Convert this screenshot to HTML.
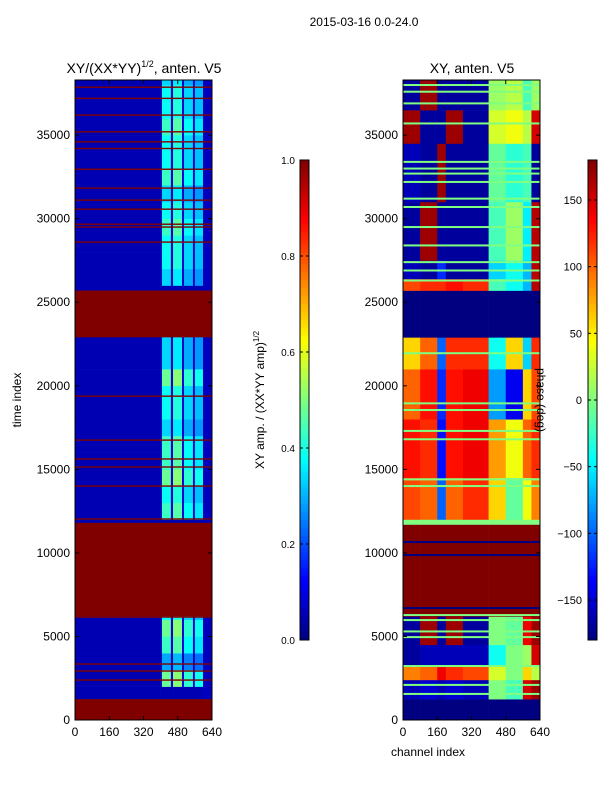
<!DOCTYPE html>
<html><head><meta charset="utf-8"><style>
body{margin:0;background:#fff;}
svg{display:block;font-family:"Liberation Sans",sans-serif;}
</style></head><body>
<svg id="fig" width="600" height="800" viewBox="0 0 600 800">
<text x="364" y="26" font-size="12" text-anchor="middle">2015-03-16 0.0-24.0</text>
<text x="144" y="73" font-size="14" text-anchor="middle">XY/(XX*YY)<tspan font-size="9" dy="-6">1/2</tspan><tspan dy="6">, anten. V5</tspan></text>
<text x="472" y="73" font-size="14" text-anchor="middle">XY, anten. V5</text>
<text transform="translate(21,400) rotate(-90)" font-size="12" text-anchor="middle">time index</text>
<text x="428" y="756" font-size="12" text-anchor="middle">channel index</text>
<text transform="translate(264,400) rotate(-90)" font-size="12" text-anchor="middle">XY amp. / (XX*YY amp)<tspan font-size="8" dy="-5">1/2</tspan></text>
<g id="left"></g>
<g id="right"></g>
<g id="cb1"></g>
<g id="cb2"></g>
<g id="axes"></g>
<text transform="translate(537,400) rotate(90)" font-size="12" text-anchor="middle">phase (deg)</text>
</svg>
<script>
// ---- data ----
const yTicks=[0,5000,10000,15000,20000,25000,30000,35000];
const xTicks=[0,160,320,480,640];
const ampTicks=[0.0,0.2,0.4,0.6,0.8,1.0];
const phaseTicks=[-150,-100,-50,0,50,100,150];
// left panel
const leftEdges=[0,400,406,448,458,500,509,551,560,598,640];
const leftWeights=[0.05,0.12,0.8,0.15,0.85,0.15,0.7,0.15,0.65,0.06];
const leftRedBands=[[0,1250],[6200,11800],[22900,25700]];
const leftRowIntensity=[0,0,0.5,0.3,0.45,0.5,0.4,0,0,0,0,0,0.45,0.4,0.5,0.45,0.45,0.35,0.4,0.4,0.5,0.35,0.35,0,0,0,0.35,0.4,0.4,0.45,0.4,0.35,0.45,0.4,0.4,0.45,0.4,0.4,0.35];
const leftRedLines=[2390,2930,3350,6160,12030,14000,15140,15620,16750,19380,28600,29500,29670,30570,31110,31830,32960,34200,34600,35200,36200,37200,37870];
// right panel (degrees)
const rightEdges=[0,80,160,200,280,400,480,560,600,640];
const rightBands=[
[0,1250,[-180,-180,-180,-180,-180,-180,-180,-180,-180]],
[1250,2400,[-160,-150,-160,-150,-160,0,-20,150,170]],
[2400,3200,[90,100,140,120,110,30,0,60,20]],
[3200,4500,[-170,-160,-160,-160,-160,-40,0,10,150]],
[4500,6200,[-170,170,-170,170,-170,0,-10,140,170]],
[6200,11700,[180,180,180,180,180,180,180,180,180]],
[11700,12000,[0,0,0,0,0,0,0,0,0]],
[12000,14500,[110,100,-100,100,120,60,-10,40,90]],
[14500,18000,[130,120,-130,130,140,80,40,100,120]],
[18000,21000,[100,130,-120,130,140,-80,-140,60,110]],
[21000,22900,[60,100,-100,120,120,-40,60,-60,120]],
[22900,25700,[-180,-180,-180,-180,-180,-180,-180,-180,-180]],
[25700,26400,[110,120,120,130,120,-20,-40,-70,160]],
[26400,27500,[-160,-170,-120,-170,-170,-60,-40,-70,160]],
[27500,31000,[-170,170,-170,-170,-170,-20,10,-50,160]],
[31000,34500,[-160,-170,170,-170,-170,-10,-30,-20,-170]],
[34500,36500,[170,-170,-170,170,-170,30,40,20,150]],
[36500,38300,[-170,170,-170,-170,-170,10,20,-20,10]]
];
const rightGreenLines=[1560,2100,3230,4960,5300,5980,6280,14000,14400,16800,17300,18550,18950,21950,26300,26900,27400,28400,29500,30700,31200,32200,32700,33000,33400,35700,36900,37600,38000];
const rightBlueLines=[6700,9870,10650];
// ---- geometry ----
const TMAX=38300, Y0=720, YT=80;
const ty=t=>Y0-t/TMAX*(Y0-YT);
const P={left:{x0:75,x1:212},right:{x0:403,x1:540}};
const cx=(p,c)=>P[p].x0+c/640*(P[p].x1-P[p].x0);
function jet(v){v=Math.max(0,Math.min(1,v));
 const r=Math.max(0,Math.min(1,1.5-Math.abs(4*v-3))),g=Math.max(0,Math.min(1,1.5-Math.abs(4*v-2))),b=Math.max(0,Math.min(1,1.5-Math.abs(4*v-1)));
 return `rgb(${Math.round(r*255)},${Math.round(g*255)},${Math.round(b*255)})`;}
const NS='http://www.w3.org/2000/svg';
function mk(tag,attrs,parent){const e=document.createElementNS(NS,tag);for(const k in attrs)e.setAttribute(k,attrs[k]);parent.appendChild(e);return e;}
const gl=document.getElementById('left'),gr=document.getElementById('right');
// left heatmap
for(let i=0;i<leftRowIntensity.length;i++){
 const t0=i*1000,t1=Math.min(TMAX,(i+1)*1000);
 for(let g=0;g<leftWeights.length;g++){
  const inten=leftRowIntensity[i];
  const v=g===0||g===leftWeights.length-1?leftWeights[g]:Math.max(0.05,leftWeights[g]*inten*1.2);
  const r=mk('rect',{x:cx('left',leftEdges[g]),y:ty(t1),width:cx('left',leftEdges[g+1])-cx('left',leftEdges[g])+0.3,height:ty(t0)-ty(t1)+0.3,fill:jet(v)},gl);
  
  
 }
}
leftRedBands.forEach(b=>{const r=mk('rect',{x:75,y:ty(b[1]),width:137,height:ty(b[0])-ty(b[1]),fill:jet(1)},gl);
 
 });
leftRedLines.forEach(t=>{const r=mk('rect',{x:75,y:ty(t)-0.7,width:137,height:1.4,fill:jet(1)},gl);
 
 });
// right heatmap
const pv=d=>(d+180)/360;
rightBands.forEach(b=>{
 for(let g=0;g<b[2].length;g++){
  const r=mk('rect',{x:cx('right',rightEdges[g]),y:ty(b[1]),width:cx('right',rightEdges[g+1])-cx('right',rightEdges[g])+0.3,height:ty(b[0])-ty(b[1])+0.3,fill:jet(pv(b[2][g]))},gr);
  
  
 }});
rightGreenLines.forEach(t=>{const r=mk('rect',{x:403,y:ty(t)-1,width:137,height:2,fill:jet(pv(0))},gr);
 
 });
rightBlueLines.forEach(t=>{const r=mk('rect',{x:403,y:ty(t)-1,width:137,height:2,fill:jet(0)},gr);
 
 });
// axes
const ax=document.getElementById('axes');
['left','right'].forEach(p=>{
 const f=mk('rect',{x:P[p].x0,y:YT,width:P[p].x1-P[p].x0,height:Y0-YT,fill:'none',stroke:'#000','stroke-width':1},ax);
 
 
 yTicks.forEach(t=>{const y=ty(t);
  mk('line',{x1:P[p].x0,x2:P[p].x0+4,y1:y,y2:y,stroke:'#000'},ax);
  mk('line',{x1:P[p].x1,x2:P[p].x1-4,y1:y,y2:y,stroke:'#000'},ax);
  const l=mk('text',{x:P[p].x0-5,y:y+4,'font-size':12,'text-anchor':'end'},ax);l.textContent=t;
  
  });
 xTicks.forEach(c=>{const x=cx(p,c);
  mk('line',{x1:x,x2:x,y1:Y0,y2:Y0-4,stroke:'#000'},ax);
  mk('line',{x1:x,x2:x,y1:YT,y2:YT+4,stroke:'#000'},ax);
  const l=mk('text',{x:x,y:Y0+16,'font-size':12,'text-anchor':'middle'},ax);l.textContent=c;
  
  });
});
// colorbars
function colorbar(id,x,lo,hi,ticks,lx,fmt){
 const g=document.getElementById(id);const top=160,bot=640,n=120;
 for(let i=0;i<n;i++){const r=mk('rect',{x:x,y:bot-(i+1)*(bot-top)/n,width:9,height:(bot-top)/n+0.4,fill:jet((i+0.5)/n)},g);
  
  }
 mk('rect',{x:x,y:top,width:9,height:bot-top,fill:'none',stroke:'#000'},g);
 ticks.forEach(t=>{const y=bot-(t-lo)/(hi-lo)*(bot-top);
  mk('line',{x1:x,x2:x+3,y1:y,y2:y,stroke:'#000'},g);mk('line',{x1:x+9,x2:x+6,y1:y,y2:y,stroke:'#000'},g);
  const l=mk('text',{x:lx,y:y+4,'font-size':fmt?11:10,'text-anchor':'end'},g);l.textContent=fmt?fmt(t):t.toFixed(1);
  
  });
}
colorbar('cb1',300,0,1,ampTicks,295);
colorbar('cb2',588,-180,180,phaseTicks,582,t=>t<0?'\u2212'+(-t):String(t));
</script>
</body></html>
